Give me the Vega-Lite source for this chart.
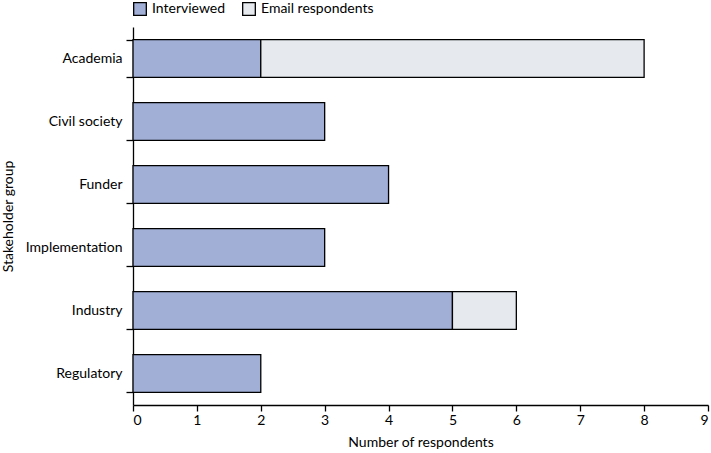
{
  "$schema": "https://vega.github.io/schema/vega-lite/v6.json",
  "width": 575,
  "height": 378,
  "autosize": "none",
  "padding": {"left": 133, "top": 27, "right": 3, "bottom": 48},
  "config": {
    "font": "Lato",
    "view": {"stroke": null},
    "axis": {"labelColor": "black", "titleColor": "black", "domainColor": "black", "tickColor": "black", "labelFontSize": 14, "titleFontSize": 14, "titleFontWeight": "normal", "grid": false, "labelFont": "Lato", "titleFont": "Lato"}
  },
  "data": {
    "values": [
      {"group": "Academia", "type": "Interviewed", "n": 2, "ord": 1},
      {"group": "Academia", "type": "Email respondents", "n": 6, "ord": 2},
      {"group": "Civil society", "type": "Interviewed", "n": 3, "ord": 1},
      {"group": "Funder", "type": "Interviewed", "n": 4, "ord": 1},
      {"group": "Implementation", "type": "Interviewed", "n": 3, "ord": 1},
      {"group": "Industry", "type": "Interviewed", "n": 5, "ord": 1},
      {"group": "Industry", "type": "Email respondents", "n": 1, "ord": 2},
      {"group": "Regulatory", "type": "Interviewed", "n": 2, "ord": 1}
    ]
  },
  "mark": {"type": "bar", "stroke": "black", "strokeWidth": 1.3},
  "encoding": {
    "y": {
      "field": "group", "type": "nominal",
      "sort": ["Academia", "Civil society", "Funder", "Implementation", "Industry", "Regulatory"],
      "scale": {"paddingInner": 0.4, "paddingOuter": 0.2},
      "axis": {"title": "Stakeholder group", "tickBand": "extent", "tickSize": 7, "labelPadding": 4, "titlePadding": 10, "domainWidth": 1.3, "tickWidth": 1.3}
    },
    "x": {
      "field": "n", "type": "quantitative", "stack": "zero",
      "scale": {"domain": [0, 9], "nice": false},
      "axis": {"title": "Number of respondents", "values": [0,1,2,3,4,5,6,7,8,9], "tickSize": 6, "labelPadding": 2, "titlePadding": 8, "domainWidth": 1.3, "tickWidth": 1.3}
    },
    "color": {
      "field": "type", "type": "nominal",
      "scale": {"domain": ["Interviewed", "Email respondents"], "range": ["#a1afd7", "#e6eaee"]},
      "legend": {"title": null, "orient": "none", "direction": "horizontal", "legendX": 0, "legendY": -25, "symbolType": "square", "symbolSize": 160, "symbolStrokeColor": "black", "symbolStrokeWidth": 1.3, "labelFontSize": 14, "labelFont": "Lato", "labelColor": "black", "columnPadding": 14, "labelOffset": 5}
    },
    "order": {"field": "ord", "type": "quantitative"}
  }
}
